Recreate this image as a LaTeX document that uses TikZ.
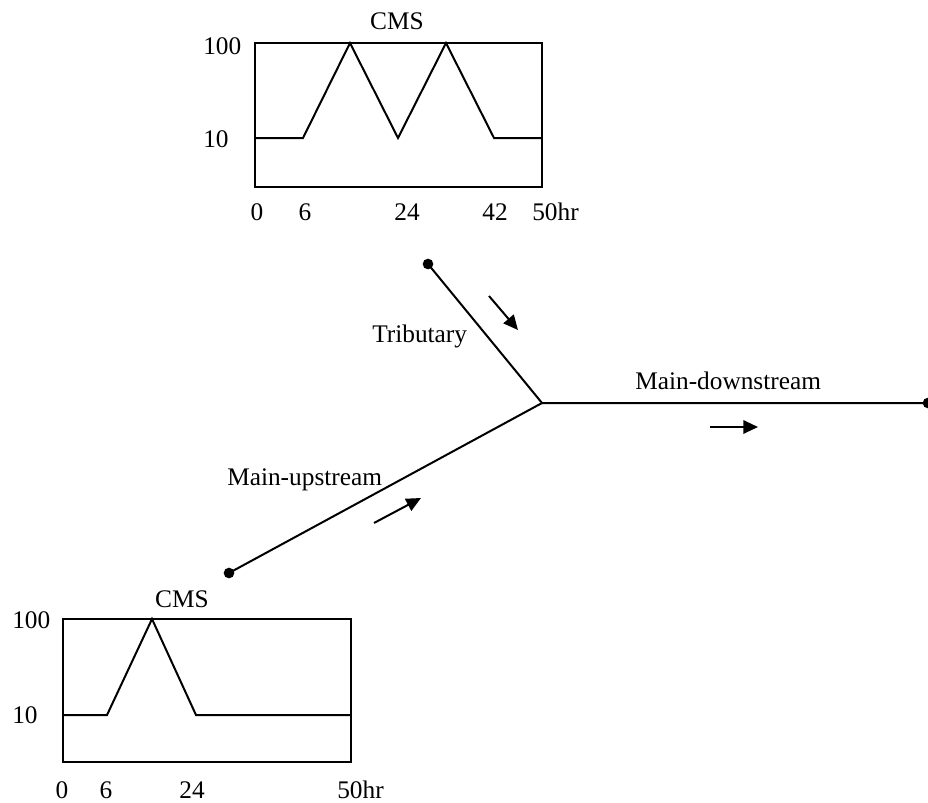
\documentclass[tikz,border=0pt]{standalone}
\usepackage{fontspec}
\setmainfont{Liberation Serif}
\usetikzlibrary{arrows.meta,positioning}

\begin{document}
\begin{tikzpicture}[x=0.75pt,y=-0.75pt,
    lbl/.style={font=\fontsize{19}{22}\selectfont, inner sep=0pt, anchor=base west},
    plot/.style={line width=1.5pt, line join=miter},
    river/.style={line width=1.5pt},
    flow/.style={line width=1.5pt, -{Triangle[length=11pt,width=10pt]}},
    dot/.style={circle, fill=black, inner sep=0pt, minimum size=8pt}]
  \useasboundingbox (0,0) rectangle (928,803);

  % tributary hydrograph
  \draw[plot] (255,43) rectangle (542,187);
  \draw[plot] (255,138) -- (303,138) -- (350,43) -- (398,138) -- (446,43)
    -- (494,138) -- (542,138);
  \node[lbl, anchor=base] (cmsT) at (397,29) {CMS};
  \node[lbl] (hiT) at (203,54) {100};
  \node[lbl] (loT) at (203,147) {10};
  \node[lbl, anchor=base] (t0T) at (257,220) {0};
  \node[lbl, anchor=base] (t6T) at (305,220) {6};
  \node[lbl, anchor=base] (t24T) at (407,220) {24};
  \node[lbl, anchor=base] (t42T) at (495,220) {42};
  \node[lbl] (t50T) at (532,220) {50hr};

  % upstream hydrograph
  \draw[plot] (63,619) rectangle (351,762);
  \draw[plot] (63,715) -- (107,715) -- (152,619) -- (196,715) -- (351,715);
  \node[lbl, anchor=base] (cmsU) at (182,607) {CMS};
  \node[lbl] (hiU) at (12,628) {100};
  \node[lbl] (loU) at (12,723) {10};
  \node[lbl, anchor=base] (t0U) at (62,798) {0};
  \node[lbl, anchor=base] (t6U) at (106,798) {6};
  \node[lbl, anchor=base] (t24U) at (192,798) {24};
  \node[lbl] (t50U) at (337,798) {50hr};

  % river network
  \node[dot] (tribEnd) at (428,264) {};
  \node[dot] (upEnd) at (229,573) {};
  \node[dot] (downEnd) at (928,403) {};
  \coordinate (junc) at (542,403);
  \draw[river] (tribEnd.center) -- (junc) -- (downEnd.center);
  \draw[river] (upEnd.center) -- (junc);

  \node[lbl] (tribLbl) at (372,342) {Tributary};
  \node[lbl] (upLbl) at (227,485) {Main-upstream};
  \node[lbl] (downLbl) at (635,389) {Main-downstream};

  % flow directions
  \coordinate (tribA) at (489,296);
  \coordinate (tribB) at (518,330);
  \coordinate (upA) at (374,523);
  \coordinate (upB) at (421,498);
  \coordinate (downA) at (710,427);
  \coordinate (downB) at (758,427);
  \draw[flow] (tribA) -- (tribB);
  \draw[flow] (upA) -- (upB);
  \draw[flow] (downA) -- (downB);
\end{tikzpicture}
\end{document}
